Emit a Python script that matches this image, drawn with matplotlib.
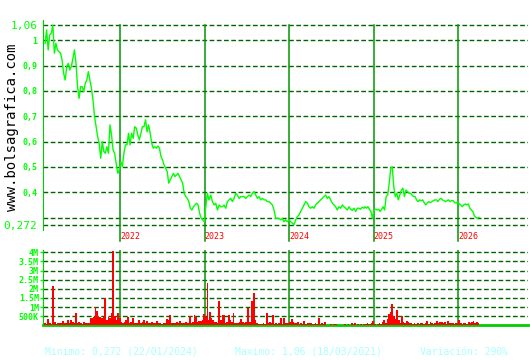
import numpy as np
import pandas as pd
import matplotlib
matplotlib.use('Agg')
import matplotlib.pyplot as plt
import matplotlib.transforms as mtransforms

# weekly-ish closing price in three stretches
price_a = [0.988, 1.041, 0.962, 1.021, 1.028, 1.06, 0.949, 0.988, 0.962, 0.955, 0.949, 0.922,
           0.870, 0.843, 0.896, 0.909, 0.883, 0.896, 0.929, 0.962, 0.909, 0.817, 0.771, 0.817,
           0.817, 0.797, 0.830, 0.843, 0.876, 0.843, 0.811, 0.764, 0.699, 0.659, 0.620, 0.593,
           0.534, 0.600, 0.561, 0.554, 0.580, 0.554, 0.666, 0.626, 0.567, 0.554, 0.514, 0.475,
           0.488, 0.521, 0.501, 0.554, 0.587, 0.587, 0.633, 0.587, 0.633, 0.613, 0.659, 0.653,
           0.626, 0.607, 0.633, 0.659, 0.659, 0.686, 0.639, 0.666, 0.633, 0.593, 0.574, 0.580,
           0.574, 0.583, 0.574, 0.541, 0.528, 0.508, 0.495, 0.482, 0.436, 0.449, 0.462, 0.475,
           0.462, 0.468, 0.475, 0.462, 0.449, 0.436, 0.396, 0.383, 0.376, 0.363, 0.337, 0.330,
           0.343, 0.350, 0.357, 0.350, 0.317, 0.297, 0.291, 0.284, 0.343, 0.396, 0.370]
price_b = [0.389, 0.363, 0.350, 0.357, 0.330, 0.350, 0.343, 0.343, 0.350, 0.337, 0.363, 0.370,
           0.376, 0.363, 0.376, 0.396, 0.389, 0.376, 0.383, 0.383, 0.383, 0.376, 0.383, 0.389,
           0.383, 0.396, 0.403, 0.389, 0.376, 0.383, 0.370, 0.376, 0.370, 0.370, 0.363, 0.363,
           0.357, 0.350, 0.330, 0.297, 0.297, 0.297, 0.291, 0.297, 0.284, 0.291, 0.284, 0.291,
           0.284, 0.278, 0.272, 0.291, 0.304, 0.311, 0.324, 0.337, 0.350, 0.363, 0.357, 0.343,
           0.337, 0.343, 0.337, 0.350, 0.357, 0.363, 0.370, 0.376, 0.383, 0.389, 0.376, 0.383,
           0.370, 0.357, 0.350, 0.343, 0.330, 0.343, 0.337, 0.350, 0.343, 0.337, 0.330, 0.343,
           0.333, 0.328, 0.337, 0.324, 0.337, 0.337, 0.333, 0.341, 0.337]
price_c = [0.343, 0.337, 0.343, 0.333, 0.324, 0.297, 0.330, 0.333, 0.330, 0.333, 0.324, 0.333,
           0.343, 0.330, 0.383, 0.389, 0.436, 0.495, 0.501, 0.422, 0.383, 0.396, 0.370, 0.389,
           0.409, 0.416, 0.383, 0.409, 0.403, 0.396, 0.396, 0.389, 0.383, 0.383, 0.370, 0.363,
           0.370, 0.367, 0.370, 0.359, 0.350, 0.357, 0.363, 0.359, 0.363, 0.367, 0.370, 0.370,
           0.363, 0.372, 0.376, 0.370, 0.367, 0.363, 0.367, 0.370, 0.363, 0.367, 0.367, 0.359,
           0.357, 0.363, 0.354, 0.350, 0.343, 0.350, 0.354, 0.350, 0.354, 0.337, 0.330, 0.324,
           0.307, 0.301, 0.297, 0.301]
price_spans = [('2021-02-10', '2023-01-19'), ('2023-01-27', '2024-11-19'), ('2024-11-23', '2026-03-31')]

# volume in thousands of shares
vol_a = [110, 75, 330, 110, 75, 2150, 200, 75, 110, 110, 145, 240, 145, 110, 290, 110, 290, 200,
         110, 660, 110, 180, 110, 75, 180, 110, 145, 110, 380, 380, 475, 1020, 785, 475, 475, 380,
         475, 1480, 290, 475, 380, 660, 4100, 510, 290, 690, 380, 200, 110, 200, 290, 440, 110,
         200, 380, 110, 145, 110, 290, 145, 200, 290, 110, 255, 145, 110, 200, 145, 110, 255, 110,
         110, 75, 145, 110, 345, 290, 565, 145, 110, 110, 200, 145, 255, 110, 145, 110, 200, 110,
         510, 110, 200, 565, 475, 200, 255, 240, 290, 620, 440, 2340, 290]
vol_b = [750, 380, 290, 200, 200, 110, 1330, 290, 565, 565, 110, 200, 565, 290, 200, 690, 145,
         110, 110, 200, 345, 200, 110, 200, 930, 200, 200, 1330, 1750, 290, 110, 75, 75, 75, 110,
         75, 660, 110, 200, 110, 565, 75, 110, 75, 110, 380, 75, 380, 110, 110, 110, 200, 330, 200,
         145, 110, 200, 75, 110, 75, 240, 75, 110, 110, 110, 75, 75, 110, 75, 380, 75, 110, 75, 200,
         37, 37, 37, 75, 37, 75, 75, 37, 37, 37, 37, 37, 75, 37, 75, 37, 110, 75, 110, 37, 75, 37,
         75, 37, 75, 75, 110, 75]
vol_c = [75, 110, 240, 75, 37, 75, 145, 75, 200, 290, 110, 330, 620, 750, 1170, 510, 330, 840,
         290, 145, 510, 200, 110, 240, 200, 145, 110, 75, 110, 75, 110, 75, 145, 110, 75, 110, 240,
         75, 200, 110, 75, 110, 240, 110, 200, 200, 110, 200, 75, 240, 110, 145, 110, 75, 110, 110,
         290, 110, 75, 110, 145, 75, 200, 110, 200, 240, 110, 200, 110]
vol_spans = [('2021-02-10', '2023-01-20'), ('2023-01-23', '2024-12-11'), ('2024-12-15', '2026-03-28')]

years = ['2022', '2023', '2024', '2025', '2026']
price_ticks = [0.272, 0.4, 0.5, 0.6, 0.7, 0.8, 0.9, 1.0, 1.06]
price_labels = ['0,272', '0,4', '0,5', '0,6', '0,7', '0,8', '0,9', '1', '1,06']
price_grid = [0.272, 0.3, 0.4, 0.5, 0.6, 0.7, 0.8, 0.9, 1.0, 1.06]
vol_ticks = [500, 1000, 1500, 2000, 2500, 3000, 3500, 4000]
vol_labels = ['500K', '1M', '1.5M', '2M', '2.5M', '3M', '3.5M', '4M']
footer = ['Minimo: 0,272 (22/01/2024)', 'Maximo: 1,06 (18/03/2021)', 'Variación: 290%']

mono = 'DejaVu Sans Mono'
lime = '#00ff00'
dash_green = '#006400'
year_green = '#009600'


def stitch(parts, spans):
    dates = []
    for vals, (a, b) in zip(parts, spans):
        dates.append(pd.date_range(a, b, periods=len(vals)))
    return dates[0].append(dates[1:]), np.concatenate(parts)


p_dates, price = stitch([price_a, price_b, price_c], price_spans)
v_dates, vol = stitch([vol_a, vol_b, vol_c], vol_spans)

fig = plt.figure(figsize=(5.3, 3.6), dpi=100)
ax = fig.add_axes([43 / 530, 130 / 360, 485 / 530, 210 / 360])
axv = fig.add_axes([43 / 530, 34.7 / 360, 485 / 530, 75.3 / 360])

xlim = (pd.Timestamp('2021-02-01'), pd.Timestamp('2026-10-29'))
ymin, ymax = 0.2511, 1.0801

for a in (ax, axv):
    a.set_xlim(*xlim)
    a.set_xticks([])
    for s in ('top', 'right'):
        a.spines[s].set_visible(False)
    a.spines['left'].set_color('#00cc00')

# price panel
for g in price_grid:
    ax.axhline(g, color=dash_green, lw=1, ls=(0, (3.4, 1.8)), zorder=1)
top_frac = (1.06 - ymin) / (ymax - ymin)
for y in years:
    ax.axvline(pd.Timestamp(y + '-01-01'), ymin=-0.052, ymax=top_frac, color=year_green,
               lw=1.1, clip_on=False, zorder=2)
    ax.text(pd.Timestamp(y + '-01-01'), -0.029, y, color='red', fontsize=6, family=mono,
            ha='left', va='center', transform=mtransforms.blended_transform_factory(ax.transData, ax.transAxes))
ax.plot(p_dates, price, color=lime, lw=1, zorder=3)
ax.set_ylim(ymin, ymax)
ax.spines['bottom'].set_visible(False)
ax.set_yticks(price_ticks)
ax.set_yticklabels(price_labels)
ax.tick_params(axis='y', length=0, pad=4, colors=lime)
for t, lab in zip(ax.get_yticklabels(), price_labels):
    t.set_family(mono)
    if lab in ('0,272', '1,06'):
        t.set_fontsize(8)
    else:
        t.set_fontsize(6)
        t.set_fontweight('bold')

# volume panel
for g in vol_ticks:
    axv.axhline(g, color=dash_green, lw=1, ls=(0, (3.4, 1.8)), zorder=1)
for y in years:
    axv.axvline(pd.Timestamp(y + '-01-01'), color=year_green, lw=1.1, zorder=2)
axv.bar(v_dates, vol, width=8, color='red', linewidth=0, antialiased=False, zorder=3)
axv.set_ylim(0, 4130)
axv.spines['bottom'].set_color('#00cc00')
axv.spines['bottom'].set_linewidth(2)
axv.set_yticks(vol_ticks)
axv.set_yticklabels(vol_labels)
axv.tick_params(axis='y', length=2, width=1, pad=1, colors=lime)
for t in axv.get_yticklabels():
    t.set_family(mono)
    t.set_fontsize(6)
    t.set_fontweight('bold')

fig.text(12 / 530, 1 - 127 / 360, 'www.bolsagrafica.com', rotation=90, family=mono,
         fontsize=10, ha='center', va='center', color='black')
for x, s in zip([45, 235, 420], footer):
    fig.text(x / 530, 1 - 352 / 360, s, family=mono, fontsize=7, color='#aaffff',
             ha='left', va='center')

fig.savefig('out.png', dpi=100)
